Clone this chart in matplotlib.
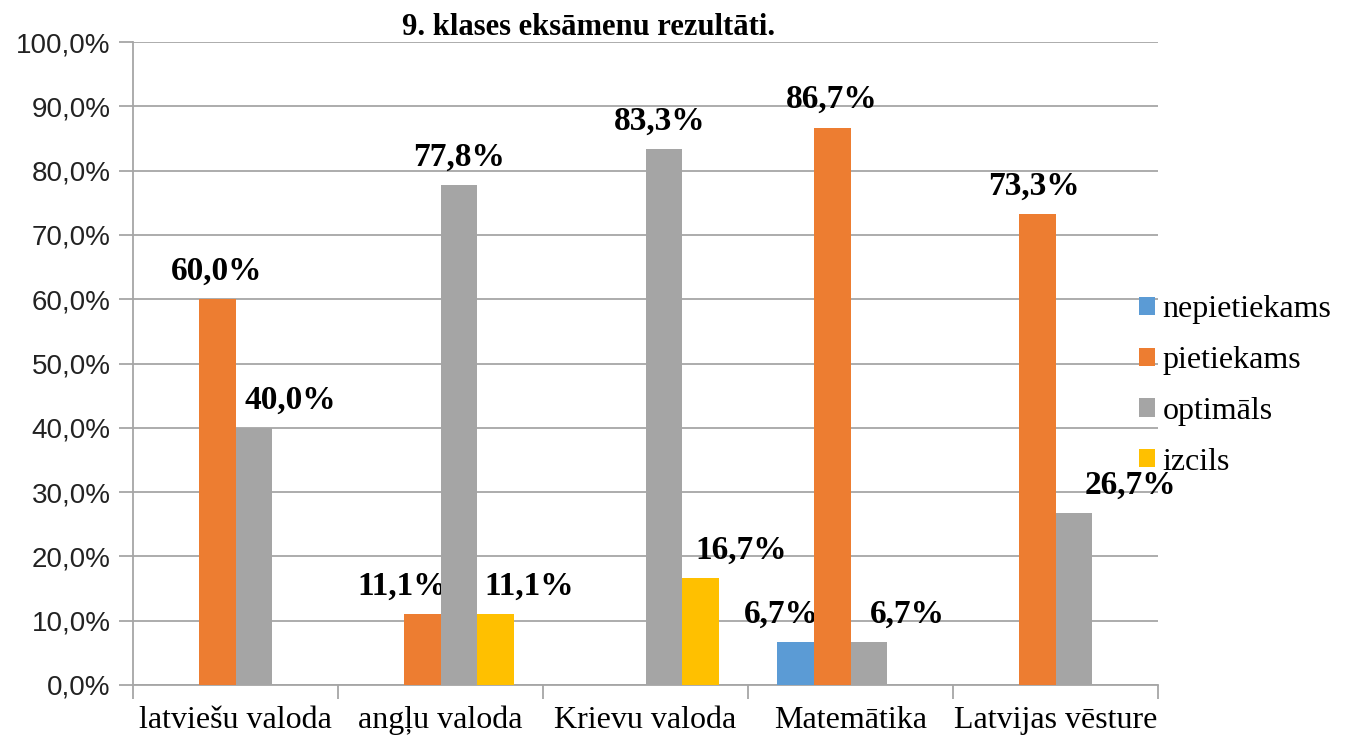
import numpy as np
import matplotlib.pyplot as plt
from matplotlib.ticker import FuncFormatter, FixedLocator

subjects = ['latviešu valoda', 'angļu valoda', 'Krievu valoda', 'Matemātika', 'Latvijas vēsture']
series = ['nepietiekams', 'pietiekams', 'optimāls', 'izcils']
nepietiekams = [0, 0, 0, 6.7, 0]
pietiekams = [60.0, 11.1, 0, 86.7, 73.3]
optimals = [40.0, 77.8, 83.3, 6.7, 26.7]
izcils = [0, 11.1, 16.7, 0, 0]

values = [nepietiekams, pietiekams, optimals, izcils]
colors = ['#5b9bd5', '#ed7d31', '#a5a5a5', '#ffc000']

# label shifts (points) so labels sit like in the original
label_dx = [
    [0, 0, 0, -10, 0],
    [0, -14, 0, 0, -2],
    [26, 0, -3, 28, 41],
    [0, 24, 29, 0, 0],
]

fig = plt.figure(figsize=(13.46, 7.38), dpi=100)
ax = fig.add_axes([133/1346, 53/738, 1025/1346, 643/738])

x = np.arange(len(subjects))
bar_width = 0.18
grid_c = '#a6a6a6'

for i, (vals, name) in enumerate(zip(values, series)):
    pos = x + (i - 1.5) * bar_width
    ax.bar(pos, vals, width=bar_width, color=colors[i], label=name, zorder=3)
    for j, v in enumerate(vals):
        if v > 0:
            ax.annotate(('%.1f%%' % v).replace('.', ','), (pos[j], v),
                        xytext=(label_dx[i][j], 20), textcoords='offset points',
                        ha='center', va='center', fontsize=24, fontweight='bold',
                        family='Liberation Serif')

ax.set_xlim(-0.5, len(subjects) - 0.5)
ax.set_ylim(0, 100)
ax.set_yticks(np.arange(0, 101, 10))
ax.yaxis.set_major_formatter(FuncFormatter(lambda v, p: ('%.1f%%' % v).replace('.', ',')))
ax.grid(True, axis='y', color=grid_c, linewidth=1.3, zorder=0)
ax.tick_params(axis='y', labelsize=20, length=10, color=grid_c, width=1.3, pad=6)
for lab in ax.get_yticklabels():
    lab.set_family('Liberation Sans')
    lab.set_color('#222222')

ax.set_xticks(x)
ax.set_xticklabels(subjects, family='Liberation Serif', fontsize=23)
ax.tick_params(axis='x', which='major', length=0, pad=15)
ax.xaxis.set_minor_locator(FixedLocator(np.arange(-0.5, len(subjects), 1)))
ax.tick_params(axis='x', which='minor', length=10, color=grid_c, width=1.3)

for s in ['top', 'right']:
    ax.spines[s].set_visible(False)
for s in ['left', 'bottom']:
    ax.spines[s].set_color(grid_c)
    ax.spines[s].set_linewidth(1.3)

leg = fig.legend(loc='center left', bbox_to_anchor=(1110/1346, 352/738), frameon=False,
                 prop={'family': 'Liberation Serif', 'size': 23},
                 handlelength=0.5, handleheight=0.5, handletextpad=0.25, labelspacing=0.68)

fig.text(589/1346, 703/738, '9. klases eksāmenu rezultāti.', ha='center', va='baseline',
         fontsize=22, fontweight='bold', family='Liberation Serif')

plt.savefig('out.png', dpi=100)
